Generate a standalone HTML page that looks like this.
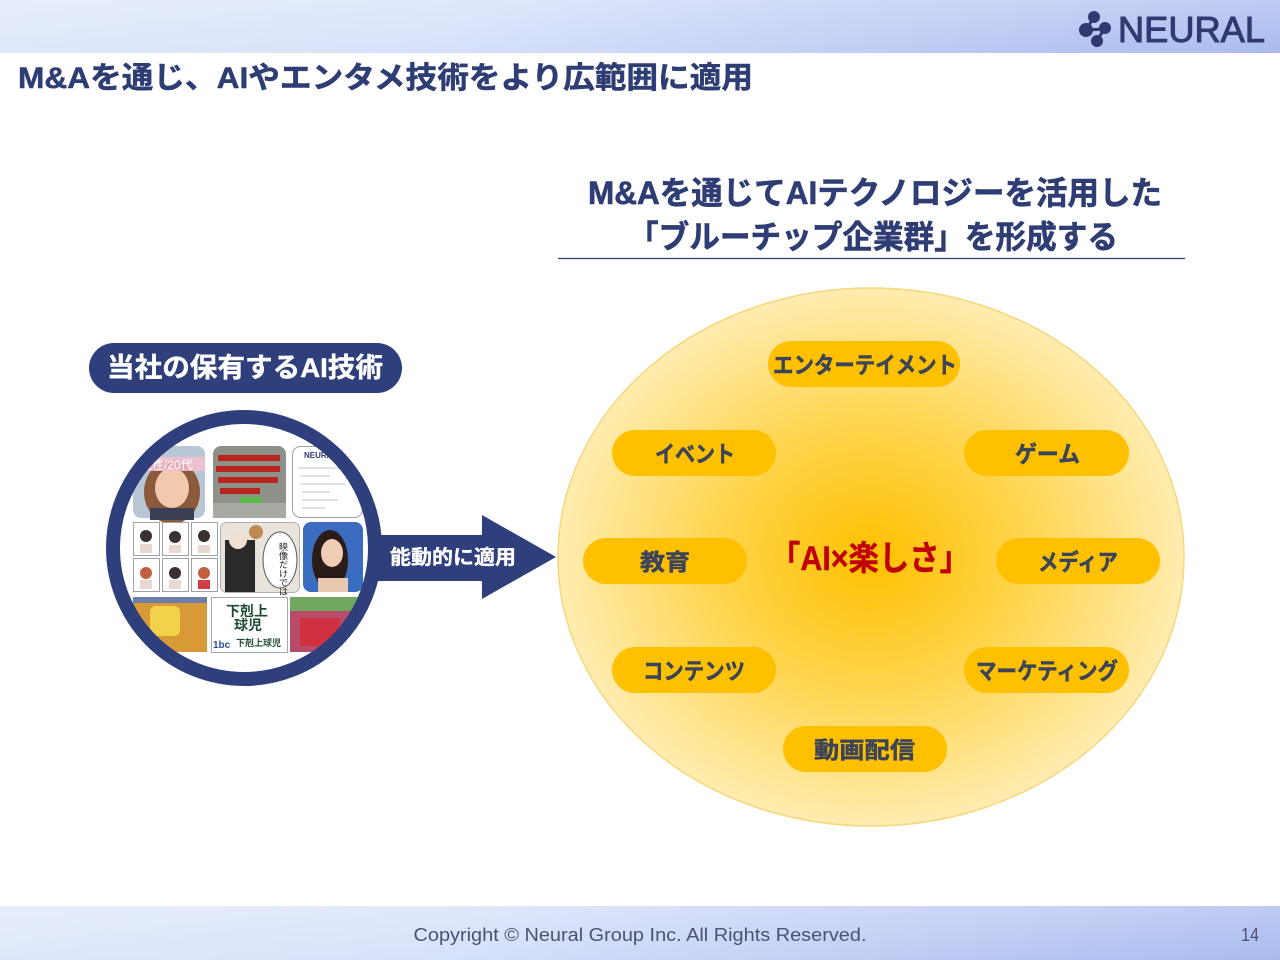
<!DOCTYPE html>
<html><head><meta charset="utf-8"><style>
html,body{margin:0;padding:0;background:#fff;}
svg{display:block;}
.t{font-family:"Liberation Sans","Noto Sans CJK JP",sans-serif;font-weight:700;}
.n{font-family:"Liberation Sans","Noto Sans CJK JP",sans-serif;font-weight:400;}
</style></head><body>
<svg width="1280" height="960" viewBox="0 0 1280 960" xmlns="http://www.w3.org/2000/svg">
<defs>
<linearGradient id="hdr" x1="0" y1="0" x2="1" y2="0">
<stop offset="0" stop-color="#dfe8fb"/><stop offset="0.35" stop-color="#d6e1fa"/><stop offset="1" stop-color="#a9baef"/>
</linearGradient>
<linearGradient id="hdrv" x1="0" y1="0" x2="0" y2="1">
<stop offset="0" stop-color="#ffffff" stop-opacity="0.25"/><stop offset="1" stop-color="#ffffff" stop-opacity="0"/>
</linearGradient>
<radialGradient id="ell" cx="0.5" cy="0.5" r="0.5">
<stop offset="0" stop-color="#ffc000"/><stop offset="0.5" stop-color="#ffd54f"/><stop offset="1" stop-color="#ffecb0"/>
</radialGradient>
<clipPath id="cc"><circle cx="244" cy="548" r="127"/></clipPath>
</defs>

<!-- header -->
<rect x="0" y="0" width="1280" height="53" fill="url(#hdr)"/>
<rect x="0" y="0" width="1280" height="53" fill="url(#hdrv)"/>
<!-- logo -->
<g fill="#2f3a70" stroke="#2f3a70">
<line x1="1093" y1="17" x2="1087" y2="30" stroke-width="3"/>
<line x1="1087" y1="30" x2="1104" y2="29" stroke-width="3"/>
<line x1="1104" y1="29" x2="1097" y2="41" stroke-width="3"/>
<circle cx="1094" cy="17" r="6" stroke="none"/>
<circle cx="1086" cy="30" r="7" stroke="none"/>
<circle cx="1105" cy="28" r="6" stroke="none"/>
<circle cx="1097" cy="41" r="6" stroke="none"/>
</g>
<text class="n" x="1118" y="42" font-size="36" fill="#2f3a70" stroke="#2f3a70" stroke-width="1" textLength="147" lengthAdjust="spacingAndGlyphs">NEURAL</text>

<!-- title -->
<text class="t" x="18" y="88" font-size="30" fill="#2e3d73" stroke="#2e3d73" stroke-width="0.5" textLength="735" lengthAdjust="spacingAndGlyphs">M&amp;Aを通じ、AIやエンタメ技術をより広範囲に適用</text>

<!-- subtitle -->
<text class="t" x="875" y="204" font-size="32" fill="#2e3d73" stroke="#2e3d73" stroke-width="0.6" text-anchor="middle" textLength="574" lengthAdjust="spacingAndGlyphs">M&amp;Aを通じてAIテクノロジーを活用した</text>
<text class="t" x="873" y="248" font-size="32" fill="#2e3d73" stroke="#2e3d73" stroke-width="0.6" text-anchor="middle" textLength="490" lengthAdjust="spacingAndGlyphs">「ブルーチップ企業群」を形成する</text>
<line x1="558" y1="258.5" x2="1185" y2="258.5" stroke="#2e3d73" stroke-width="1.3"/>

<!-- left pill -->
<rect x="89" y="343" width="313" height="50" rx="25" fill="#2e3f7c"/>
<text class="t" x="245" y="377" font-size="27" fill="#ffffff" stroke="#ffffff" stroke-width="0.4" text-anchor="middle" textLength="276" lengthAdjust="spacingAndGlyphs">当社の保有するAI技術</text>

<!-- collage -->
<circle cx="244" cy="548" r="130" fill="#ffffff"/>
<g clip-path="url(#cc)">
 <rect x="133" y="446" width="72" height="72" rx="8" fill="#b9c6d6"/>
 <ellipse cx="172" cy="492" rx="28" ry="32" fill="#8a5a3a"/>
 <ellipse cx="172" cy="488" rx="17" ry="20" fill="#f2c9ad"/>
 <rect x="150" y="508" width="44" height="12" fill="#3a3f55"/>
 <rect x="133" y="457" width="72" height="14" fill="#f7c0d0" opacity="0.85"/>
 <text class="n" x="140" y="469" font-size="12" fill="#ffffff">女性/20代</text>
 <rect x="213" y="446" width="73" height="72" rx="8" fill="#8e918a"/>
 <g fill="#b8241e">
 <rect x="218" y="455" width="62" height="6"/><rect x="216" y="466" width="64" height="6"/>
 <rect x="218" y="477" width="60" height="6"/><rect x="220" y="488" width="40" height="6"/>
 </g>
 <rect x="240" y="497" width="22" height="6" fill="#5cb84a"/>
 <rect x="213" y="503" width="73" height="15" fill="#a8aaa4"/>
 <rect x="292.5" y="446.5" width="70" height="71" rx="8" fill="#ffffff" stroke="#9aa0b0"/>
 <text class="t" x="304" y="458" font-size="8" fill="#2f3a70">NEURAL</text>
 <g stroke="#c0c4cc" stroke-width="1">
 <line x1="298" y1="468" x2="340" y2="468"/><line x1="300" y1="476" x2="330" y2="476"/>
 <line x1="300" y1="484" x2="345" y2="484"/><line x1="302" y1="492" x2="330" y2="492"/>
 <line x1="302" y1="500" x2="338" y2="500"/><line x1="302" y1="508" x2="325" y2="508"/>
 </g>
 <g fill="#ffffff" stroke="#a0a0a8">
 <rect x="133.5" y="522.5" width="26" height="33"/><rect x="162.5" y="522.5" width="26" height="33"/><rect x="191.5" y="522.5" width="26" height="33"/>
 <rect x="133.5" y="558.5" width="26" height="33"/><rect x="162.5" y="558.5" width="26" height="33"/><rect x="191.5" y="558.5" width="26" height="33"/>
 </g>
 <g fill="#3a3030">
 <circle cx="146" cy="536" r="6"/><circle cx="175" cy="537" r="6"/><circle cx="204" cy="536" r="6"/>
 <circle cx="175" cy="573" r="6"/>
 </g>
 <g fill="#c06040"><circle cx="146" cy="573" r="6"/><circle cx="204" cy="573" r="6"/></g>
 <g fill="#e8d8d0"><rect x="140" y="544" width="12" height="9"/><rect x="169" y="545" width="12" height="8"/><rect x="198" y="545" width="12" height="8"/><rect x="140" y="580" width="12" height="9"/><rect x="169" y="580" width="12" height="9"/><rect x="198" y="580" width="12" height="9" fill="#d04040"/></g>
 <rect x="220.5" y="522.5" width="79" height="70" rx="6" fill="#e8e4dc" stroke="#b0b0b0"/>
 <rect x="225" y="540" width="30" height="52" fill="#2a2a2a"/>
 <circle cx="238" cy="540" r="9" fill="#f0e0d0"/>
 <circle cx="256" cy="532" r="7" fill="#c08850"/>
 <ellipse cx="280" cy="560" rx="17" ry="28" fill="#ffffff" stroke="#555"/>
 <text class="n" x="283" y="542" font-size="9" fill="#222" writing-mode="tb">映像だけでは</text>
 <rect x="303" y="522" width="60" height="70" rx="8" fill="#3a6cc0"/>
 <ellipse cx="330" cy="560" rx="18" ry="30" fill="#2a1c18"/>
 <ellipse cx="332" cy="553" rx="11" ry="14" fill="#f2cdb5"/>
 <rect x="318" y="578" width="30" height="14" fill="#e8c8b0"/>
 <rect x="133" y="597" width="74" height="55" fill="#d89a36"/>
 <rect x="150" y="606" width="30" height="30" rx="6" fill="#f2d24a"/>
 <rect x="133" y="597" width="74" height="6" fill="#6b7fa8"/>
 <rect x="211.5" y="597.5" width="76" height="55" fill="#ffffff" stroke="#a0a8b0"/>
 <text class="t" x="226" y="616" font-size="14" fill="#1e4a30">下剋上</text>
 <text class="t" x="234" y="630" font-size="14" fill="#1e4a30">球児</text>
 <text class="t" x="213" y="648" font-size="10" fill="#2850a0">1bc</text>
 <text class="t" x="236" y="646" font-size="9" fill="#1e4a30">下剋上球児</text>
 <rect x="290" y="597" width="71" height="55" fill="#b84a6a"/>
 <rect x="290" y="597" width="71" height="14" fill="#70a860"/>
 <rect x="300" y="618" width="40" height="28" fill="#d03040"/>
</g>
<circle cx="244" cy="548" r="131" fill="none" stroke="#2e3f7c" stroke-width="14"/>

<!-- arrow -->
<rect x="378" y="535" width="106" height="46" fill="#2e3f7c"/>
<polygon points="482,515 556,557 482,599" fill="#2e3f7c"/>
<text class="t" x="390" y="564" font-size="20" fill="#ffffff" stroke="#ffffff" stroke-width="0.3" textLength="126" lengthAdjust="spacingAndGlyphs">能動的に適用</text>

<!-- ellipse -->
<ellipse cx="871" cy="557" rx="313" ry="269" fill="url(#ell)" stroke="#f5d77c" stroke-width="1.5"/>

<!-- pills -->
<g fill="#ffc000">
<rect x="768" y="341" width="192" height="46" rx="23"/>
<rect x="612" y="430" width="164" height="46" rx="23"/>
<rect x="964" y="430" width="165" height="46" rx="23"/>
<rect x="583" y="538" width="164" height="46" rx="23"/>
<rect x="996" y="538" width="164" height="46" rx="23"/>
<rect x="612" y="647" width="164" height="46" rx="23"/>
<rect x="964" y="647" width="165" height="46" rx="23"/>
<rect x="783" y="726" width="164" height="46" rx="23"/>
</g>
<g font-size="23" fill="#3b4459" stroke="#3b4459" stroke-width="0.5">
<text class="t" x="773" y="373" textLength="184" lengthAdjust="spacingAndGlyphs">エンターテイメント</text>
<text class="t" x="655" y="462" textLength="80" lengthAdjust="spacingAndGlyphs">イベント</text>
<text class="t" x="1015" y="462" textLength="65" lengthAdjust="spacingAndGlyphs">ゲーム</text>
<text class="t" x="640" y="570" textLength="50" lengthAdjust="spacingAndGlyphs">教育</text>
<text class="t" x="1038" y="570" textLength="80" lengthAdjust="spacingAndGlyphs">メディア</text>
<text class="t" x="643" y="679" textLength="102" lengthAdjust="spacingAndGlyphs">コンテンツ</text>
<text class="t" x="976" y="679" textLength="142" lengthAdjust="spacingAndGlyphs">マーケティング</text>
<text class="t" x="814" y="758" textLength="101" lengthAdjust="spacingAndGlyphs">動画配信</text>
</g>
<text class="t" x="770" y="570" font-size="34" fill="#c00000" stroke="#c00000" stroke-width="0.4" textLength="200" lengthAdjust="spacingAndGlyphs">「AI×楽しさ」</text>

<!-- footer -->
<rect x="0" y="906" width="1280" height="54" fill="url(#hdr)"/>
<rect x="0" y="906" width="1280" height="54" fill="url(#hdrv)"/>
<text class="n" x="640" y="941" font-size="18" fill="#4b5270" text-anchor="middle" textLength="453" lengthAdjust="spacingAndGlyphs">Copyright © Neural Group Inc. All Rights Reserved.</text>
<text class="n" x="1241" y="941" font-size="18" fill="#4b5270" textLength="18" lengthAdjust="spacingAndGlyphs">14</text>
</svg>
</body></html>
